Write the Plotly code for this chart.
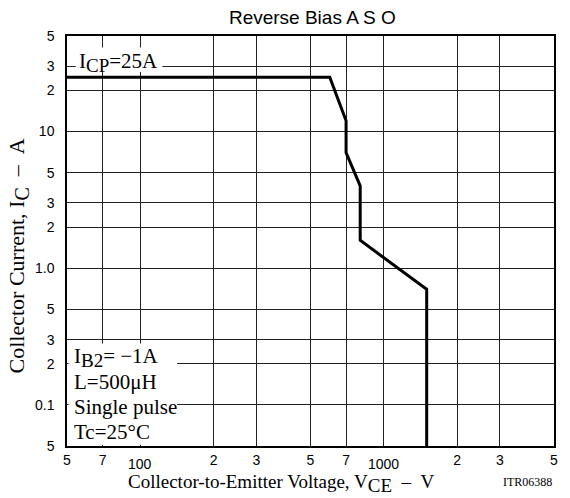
import plotly.graph_objects as go
import math

# Curve data (reverse bias ASO)
vce = [50, 600, 700, 700, 800, 800, 1500, 1500]
ic = [25, 25, 12, 7, 4, 1.6, 0.7, 0.05]

x_tickvals = [50, 70, 100, 200, 300, 500, 700, 1000, 2000, 3000, 5000]
x_ticktext = ["5", "7", "", "2", "3", "5", "7", "", "2", "3", "5"]
x_offset_labels = [100, 1000]

y_tickvals = [0.05, 0.1, 0.2, 0.3, 0.5, 1, 2, 3, 5, 10, 20, 30, 50]
y_ticktext = ["5", "0.1", "2", "3", "5", "1.0", "2", "3", "5", "10", "2", "3", "5"]

SANS = "Liberation Sans, Arial, sans-serif"
SERIF = "Liberation Serif, Times New Roman, serif"
NB = "\u00a0"

fig = go.Figure()
fig.add_trace(go.Scatter(x=vce, y=ic, mode="lines",
                         line=dict(color="black", width=3), showlegend=False,
                         hoverinfo="skip"))

fig.update_layout(
    width=570, height=498,
    margin=dict(l=67, r=12, t=36, b=52),
    paper_bgcolor="white", plot_bgcolor="white",
    title=dict(text="Reverse Bias A S O", x=0.548, xanchor="center", y=0.966, yanchor="middle",
               font=dict(family=SANS, size=19, color="black")),
    xaxis=dict(type="log", range=[math.log10(50), math.log10(5000)],
               tickmode="array", tickvals=x_tickvals, ticktext=x_ticktext,
               showgrid=True, gridcolor="#222", gridwidth=1,
               showline=True, linecolor="black", linewidth=1.5, mirror=True,
               ticks="", tickfont=dict(family=SANS, size=14, color="black"),
               ticklabelstandoff=0, zeroline=False),
    yaxis=dict(type="log", range=[math.log10(0.05), math.log10(50)],
               tickmode="array", tickvals=y_tickvals, ticktext=y_ticktext,
               showgrid=True, gridcolor="#222", gridwidth=1,
               showline=True, linecolor="black", linewidth=1.5, mirror=True,
               ticks="", tickfont=dict(family=SANS, size=14, color="black"),
               ticklabelstandoff=8, zeroline=False),
)

# White boxes behind labels
fig.add_shape(type="rect", xref="paper", yref="paper", x0=0.018, x1=0.196, y0=0.912, y1=0.972,
              fillcolor="white", line=dict(width=0), layer="above")
fig.add_shape(type="rect", xref="paper", yref="paper", x0=0.003, x1=0.226, y0=0.003, y1=0.25,
              fillcolor="white", line=dict(width=0), layer="above")

def sub(t, px):
    return '<sub><span style="font-size:%dpx">%s</span></sub>' % (px, t)

anns = []
anns.append(dict(text="I" + sub("CP", 19) + "=25A", xref="paper", yref="paper", x=0.02, y=0.936,
                 xanchor="left", yanchor="middle", showarrow=False,
                 font=dict(family=SERIF, size=21, color="black")))
lines = ["I" + sub("B2", 19) + "=" + NB + "\u22121A", "L=500\u03bcH", "Single pulse", "Tc=25\u00b0C"]
ys = [0.216, 0.156, 0.095, 0.034]
for t, yy in zip(lines, ys):
    anns.append(dict(text=t, xref="paper", yref="paper", x=0.01, y=yy,
                     xanchor="left", yanchor="middle", showarrow=False,
                     font=dict(family=SERIF, size=21, color="black")))
for v in x_offset_labels:
    anns.append(dict(text=str(v), xref="x", yref="paper", x=math.log10(v), y=-0.02,
                     xanchor="center", yanchor="top", yshift=0, showarrow=False,
                     font=dict(family=SANS, size=14, color="black")))
anns.append(dict(text="Collector-to-Emitter Voltage, V" + sub("CE", 19) + NB * 2 + "\u2013" + NB * 2 + "V",
                 xref="paper", yref="paper",
                 x=0.44, y=-0.092, xanchor="center", yanchor="middle", showarrow=False,
                 font=dict(family=SERIF, size=19, color="black")))
anns.append(dict(text="ITR06388", xref="paper", yref="paper",
                 x=1.0, y=-0.088, xanchor="right", yanchor="middle", showarrow=False,
                 font=dict(family=SERIF, size=12, color="black")))
anns.append(dict(text="Collector Current, I" + sub("C", 20) + NB * 2 + "\u2013" + NB * 2 + "A",
                 xref="paper", yref="paper",
                 x=-0.1, y=0.463, xanchor="center", yanchor="middle", textangle=-90, showarrow=False,
                 font=dict(family=SERIF, size=22, color="black")))
fig.update_layout(annotations=anns)

fig.write_html("out.html", config={"displayModeBar": False},
               post_script="document.body.style.margin='0';")
